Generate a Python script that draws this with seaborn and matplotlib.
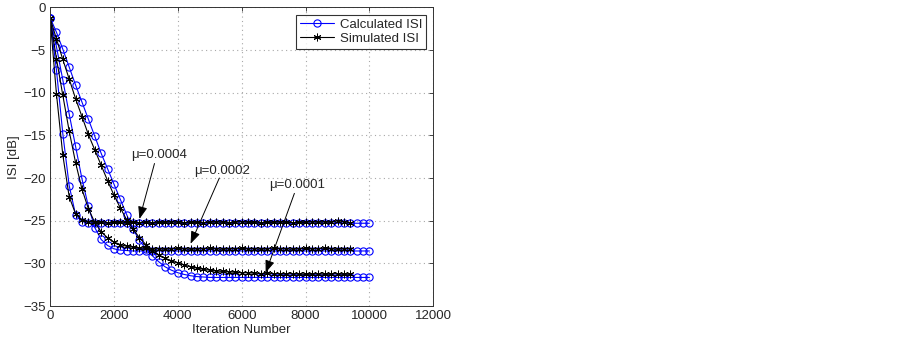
import numpy as np
import matplotlib
matplotlib.use("Agg")
import matplotlib.pyplot as plt
import seaborn as sns
from matplotlib.lines import Line2D

# iteration grids
iters_calc = list(range(0, 10001, 200))
iters_sim = list(range(0, 9401, 200))

# mu = 0.0004
calc_fast = [-1.2, -7.3, -14.8, -20.9, -24.3, -25.1, -25.25,
             -25.3, -25.3, -25.3, -25.3, -25.3, -25.3, -25.3, -25.3, -25.3, -25.3, -25.3,
             -25.3, -25.3, -25.3, -25.3, -25.3, -25.3, -25.3, -25.3, -25.3, -25.3, -25.3,
             -25.3, -25.3, -25.3, -25.3, -25.3, -25.3, -25.3, -25.3, -25.3, -25.3, -25.3,
             -25.3, -25.3, -25.3, -25.3, -25.3, -25.3, -25.3, -25.3, -25.3, -25.3, -25.3]
sim_fast = [-1.2, -10.1, -17.3, -22.2, -24.2, -24.9, -25.1, -25.2, -25.2, -25.3,
            -25.2, -25.2, -25.3, -25.2, -25.25, -25.2, -25.3, -25.2, -25.2, -25.15,
            -25.2, -25.3, -25.2, -25.2, -25.25, -25.2, -25.15, -25.2, -25.3, -25.2,
            -25.1, -25.2, -25.2, -25.3, -25.2, -25.2, -25.15, -25.2, -25.25, -25.2,
            -25.2, -25.1, -25.2, -25.15, -25.2, -25.0, -25.1, -25.25]

# mu = 0.0002
calc_mid = [-1.2, -4.6, -8.5, -12.5, -16.3, -20.1, -23.3, -25.8, -27.2, -27.9,
            -28.3, -28.45, -28.5,
            -28.55, -28.55, -28.55, -28.55, -28.55, -28.55, -28.55, -28.55, -28.55, -28.55,
            -28.55, -28.55, -28.55, -28.55, -28.55, -28.55, -28.55, -28.55, -28.55, -28.55,
            -28.55, -28.55, -28.55, -28.55, -28.55, -28.55, -28.55, -28.55, -28.55, -28.55,
            -28.55, -28.55, -28.55, -28.55, -28.55, -28.55, -28.55, -28.55]
sim_mid = [-1.2, -6.0, -10.3, -14.5, -18.2, -21.3, -23.6, -25.2, -26.3, -27.0,
           -27.5, -27.8, -28.0, -28.1, -28.2, -28.25, -28.3, -28.3, -28.35, -28.3,
           -28.25, -28.3, -28.35, -28.3, -28.3, -28.2, -28.3, -28.35, -28.3, -28.3,
           -28.25, -28.3, -28.3, -28.35, -28.3, -28.2, -28.3, -28.3, -28.35, -28.3,
           -28.25, -28.3, -28.3, -28.2, -28.3, -28.35, -28.3, -28.3]

# mu = 0.0001
calc_slow = [-1.2, -2.9, -4.9, -7.0, -9.1, -11.1, -13.1, -15.1, -17.1, -18.9,
             -20.7, -22.5, -24.3, -26.0, -27.3, -28.3, -29.1, -29.8, -30.4, -30.8,
             -31.1, -31.3, -31.45, -31.55, -31.6,
             -31.65, -31.65, -31.65, -31.65, -31.65, -31.65, -31.65, -31.65, -31.65, -31.65,
             -31.65, -31.65, -31.65, -31.65, -31.65, -31.65, -31.65, -31.65, -31.65, -31.65,
             -31.65, -31.65, -31.65, -31.65, -31.65, -31.65]
sim_slow = [-1.2, -3.7, -6.1, -8.4, -10.7, -12.8, -14.9, -16.7, -18.5, -20.3,
            -22.0, -23.5, -24.9, -26.0, -27.0, -27.8, -28.5, -29.0, -29.4, -29.7,
            -29.95, -30.2, -30.4, -30.55, -30.7, -30.8, -30.9, -30.95, -31.0, -31.05,
            -31.1, -31.1, -31.15, -31.2, -31.15, -31.2, -31.2, -31.25, -31.2, -31.25,
            -31.3, -31.25, -31.2, -31.3, -31.25, -31.2, -31.3, -31.25]

mu_labels = ["\u03bc=0.0004", "\u03bc=0.0002", "\u03bc=0.0001"]
mu_text_pos = [(2550, -17.3), (4500, -19.2), (6850, -20.8)]
mu_arrow_tail = [(3270, -18.3), (5300, -20.0), (7650, -21.8)]
mu_arrow_head = [(2800, -24.8), (4400, -27.7), (6750, -31.1)]

sns.set_style("white")
plt.rcParams["font.family"] = ["Liberation Sans", "DejaVu Sans"]
plt.rcParams["font.size"] = 9

fig = plt.figure(figsize=(9.03, 3.39), dpi=100)
ax = fig.add_axes([0.0554, 0.0973, 0.4245, 0.881])

star = (6, 2, 0)
calc_kw = dict(color="blue", marker="o", markersize=5.2, markerfacecolor="none",
               markeredgecolor="blue", markeredgewidth=0.8, linewidth=0.8)
sim_kw = dict(color="black", marker=star, markersize=5.5, markeredgecolor="black",
              markeredgewidth=0.7, linewidth=0.8)

for yc in [calc_fast, calc_mid, calc_slow]:
    sns.lineplot(x=iters_calc, y=yc, ax=ax, legend=False, **calc_kw)
for ys in [sim_fast, sim_mid, sim_slow]:
    sns.lineplot(x=iters_sim, y=ys, ax=ax, legend=False, **sim_kw)

for lab, tp, tail, head in zip(mu_labels, mu_text_pos, mu_arrow_tail, mu_arrow_head):
    ax.text(tp[0], tp[1], lab, fontsize=9.5, ha="left", va="center")
    ax.annotate("", xy=head, xytext=tail,
                arrowprops=dict(arrowstyle="-|>,head_length=0.75,head_width=0.28",
                                color="black", lw=0.7,
                                mutation_scale=10, shrinkA=0, shrinkB=0))

ax.set_xlim(0, 12000)
ax.set_ylim(-35, 0)
ax.set_xticks(range(0, 12001, 2000))
ax.set_yticks(range(-35, 1, 5))
ax.set_xlabel("Iteration Number", fontsize=9.5, labelpad=1)
ax.set_ylabel("ISI [dB]", fontsize=9.5, labelpad=2)
ax.tick_params(direction="in", length=3, width=0.6, top=True, right=True,
               labelsize=9.5, pad=3)
ax.grid(True, linestyle=(0, (1, 3)), color="#a8a8a8", linewidth=0.8)
for sp in ax.spines.values():
    sp.set_color("#333333")
    sp.set_linewidth(0.7)

handles = [Line2D([], [], **calc_kw), Line2D([], [], **sim_kw)]
leg = ax.legend(handles, ["Calculated ISI", "Simulated ISI"], loc="upper right",
                fontsize=9.5, frameon=True, fancybox=False, edgecolor="black",
                handlelength=2.6, borderpad=0.3, labelspacing=0.15,
                borderaxespad=0.55, handletextpad=0.4)
leg.get_frame().set_linewidth(0.8)

fig.savefig("out.png", dpi=100, facecolor="white")
